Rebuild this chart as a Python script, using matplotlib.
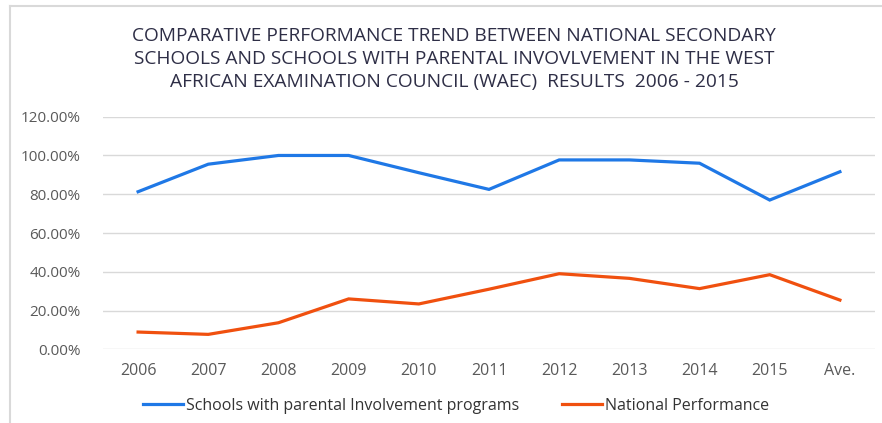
import matplotlib.pyplot as plt
from matplotlib.lines import Line2D
from matplotlib.ticker import PercentFormatter

# values (fractions)
years = ['2006', '2007', '2008', '2009', '2010', '2011', '2012', '2013', '2014', '2015', 'Ave.']
parental = [0.813, 0.955, 1.0, 1.0, 0.911, 0.825, 0.977, 0.977, 0.96, 0.77, 0.916]
national = [0.089, 0.077, 0.137, 0.26, 0.234, 0.31, 0.39, 0.366, 0.313, 0.385, 0.254]

blue = '#1f78e6'
orange = '#f0500f'
txt = '#595959'

plt.rcParams['font.family'] = ['Open Sans', 'DejaVu Sans']

fig = plt.figure(figsize=(8.82, 4.23), dpi=100)
ax = fig.add_axes([103 / 882, 1 - 349.3 / 423, 772 / 882, 232.6 / 423])

x = range(len(years))
ax.plot(x, parental, color=blue, lw=2.3, solid_joinstyle='miter')
ax.plot(x, national, color=orange, lw=2.3, solid_joinstyle='miter')

ax.set_xlim(-0.5, len(years) - 0.5)
ax.set_ylim(0, 1.2)
ax.set_yticks([0, 0.2, 0.4, 0.6, 0.8, 1.0, 1.2])
ax.yaxis.set_major_formatter(PercentFormatter(1.0, decimals=2))
ax.set_xticks(list(x))
ax.set_xticklabels(years)
ax.tick_params(length=0, colors=txt)
ax.tick_params(axis='y', pad=16, labelsize=11)
ax.tick_params(axis='x', pad=10, labelsize=11.5)
for s in ax.spines.values():
    s.set_visible(False)
ax.grid(axis='y', color='#d9d9d9', lw=1)
ax.set_axisbelow(True)

fig.text(454 / 882, 1 - 59 / 423,
         'COMPARATIVE PERFORMANCE TREND BETWEEN NATIONAL SECONDARY\n'
         'SCHOOLS AND SCHOOLS WITH PARENTAL INVOVLVEMENT IN THE WEST\n'
         'AFRICAN EXAMINATION COUNCIL (WAEC)  RESULTS  2006 - 2015',
         ha='center', va='center', fontsize=13.8, color='#2e2e46', linespacing=1.38)

handles = [Line2D([], [], color=blue, lw=2.3), Line2D([], [], color=orange, lw=2.3)]
fig.legend(handles, ['Schools with parental Involvement programs', 'National Performance'],
           loc='center', bbox_to_anchor=(456 / 882, 1 - 406 / 423), ncol=2, frameon=False,
           fontsize=11.5, labelcolor='#333333', handlelength=2.5, handletextpad=0.2,
           columnspacing=2.7)

# screenshot frame on top and left
fig.add_artist(Line2D([10 / 882, 1], [1 - 6 / 423, 1 - 6 / 423], color='#d9d9d9', lw=1.5))
fig.add_artist(Line2D([10 / 882, 10 / 882], [0, 1 - 6 / 423], color='#d9d9d9', lw=1.5))

fig.savefig('out.png', dpi=100)
